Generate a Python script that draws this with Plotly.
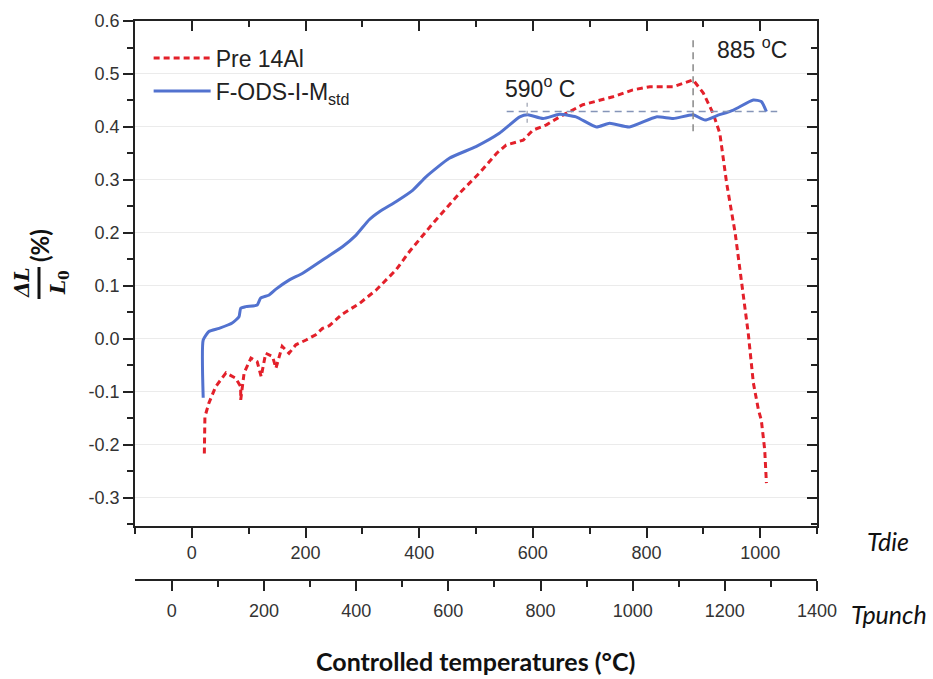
import plotly.graph_objects as go

# ---------------- data (Tdie, °C ; ΔL/L0, %) ----------------
pre14al_t = [22, 22, 23, 30, 42, 60, 77, 86, 86, 92, 104, 115, 122, 130, 142, 148, 159, 171, 183,
             201, 218, 230, 242, 265, 295, 324, 359, 383, 415, 424, 471, 506, 536, 553, 583, 600,
             624, 647, 688, 741, 776, 806, 847, 882, 900, 917, 929, 941, 956, 967, 979, 988, 997,
             1002, 1008, 1011]
pre14al_v = [-0.216, -0.159, -0.147, -0.121, -0.090, -0.064, -0.074, -0.090, -0.115, -0.064, -0.036,
             -0.043, -0.071, -0.027, -0.033, -0.055, -0.014, -0.027, -0.011, -0.002, 0.008, 0.020,
             0.025, 0.047, 0.067, 0.092, 0.130, 0.165, 0.206, 0.218, 0.275, 0.313, 0.350, 0.366,
             0.375, 0.394, 0.404, 0.419, 0.442, 0.457, 0.470, 0.476, 0.476, 0.489, 0.464, 0.426,
             0.388, 0.294, 0.200, 0.106, 0.011, -0.083, -0.134, -0.153, -0.209, -0.272]

fods_t = [20, 20, 30, 48, 71, 83, 86, 95, 115, 121, 136, 148, 171, 195, 230, 265, 289, 312, 330,
          359, 389, 412, 453, 500, 541, 577, 591, 618, 647, 676, 712, 735, 770, 817, 847, 882,
          903, 923, 953, 988, 1002, 1011]
fods_v = [-0.111, -0.002, 0.014, 0.020, 0.030, 0.042, 0.058, 0.061, 0.064, 0.077, 0.083, 0.094,
          0.111, 0.124, 0.149, 0.174, 0.196, 0.225, 0.240, 0.259, 0.281, 0.306, 0.341, 0.363,
          0.388, 0.419, 0.423, 0.416, 0.424, 0.419, 0.400, 0.407, 0.400, 0.419, 0.416, 0.423,
          0.413, 0.421, 0.432, 0.451, 0.448, 0.429]

series_names = ["Pre 14Al", "F-ODS-I-M<sub>std</sub>"]

y_tickvals = [-0.3, -0.2, -0.1, 0.0, 0.1, 0.2, 0.3, 0.4, 0.5, 0.6]
y_ticktext = ["-0.3", "-0.2", "-0.1", "0.0", "0.1", "0.2", "0.3", "0.4", "0.5", "0.6"]

# reference markers
t_590 = 590
t_885 = 882
plateau = 0.429
plateau_span = [554, 1030]

tdie_range = [-100, 1100]
tpunch_range = [-80, 1400]
y_range = [-0.353, 0.6]

# ---------------- figure ----------------
W, H = 933, 679
ML, MR, MT, MB = 135, 116, 21, 99
plot_h = H - MT - MB
ydom_low = (580 - 526) / plot_h

RED = "#e3202a"
BLUE = "#5272cf"
AX = "#222222"
TICKFONT = dict(family="Liberation Sans, Arial", size=18, color="#333333")

fig = go.Figure()
fig.add_trace(go.Scatter(x=pre14al_t, y=pre14al_v, mode="lines", name=series_names[0],
                         line=dict(color=RED, width=3, dash="6px,4px")))
fig.add_trace(go.Scatter(x=fods_t, y=fods_v, mode="lines", name=series_names[1],
                         line=dict(color=BLUE, width=3, shape="spline", smoothing=0.5)))

# reference dashed lines
fig.add_shape(type="line", xref="x", yref="y", x0=plateau_span[0], x1=plateau_span[1],
              y0=plateau, y1=plateau, line=dict(color="#8595b8", width=1.5, dash="7px,5px"))
fig.add_shape(type="line", xref="x", yref="y", x0=t_590, x1=t_590, y0=0.408, y1=0.452,
              line=dict(color="#9aa0b0", width=1.2, dash="4px,4px"))
fig.add_shape(type="line", xref="x", yref="y", x0=t_885, x1=t_885, y0=0.392, y1=0.572,
              line=dict(color="#888888", width=1.5, dash="7px,5px"))

axis_common = dict(showline=True, linecolor=AX, linewidth=1.5, zeroline=False)

fig.update_layout(
    width=W, height=H,
    margin=dict(l=ML, r=MR, t=MT, b=MB),
    paper_bgcolor="white", plot_bgcolor="white",
    showlegend=True,
    legend=dict(x=0.02, y=0.972, xanchor="left", yanchor="top",
                font=dict(family="Liberation Sans, Arial", size=23, color="#222222"),
                bgcolor="rgba(0,0,0,0)", itemwidth=57, tracegroupgap=0),
    xaxis=dict(range=tdie_range, domain=[0, 1], anchor="y", tick0=0, dtick=200,
               ticks="outside", ticklen=10, tickwidth=1.5, tickcolor=AX,
               minor=dict(dtick=100, ticks="outside", ticklen=6, tickwidth=1.5, tickcolor=AX),
               tickfont=TICKFONT, showgrid=False, **axis_common),
    xaxis2=dict(range=tpunch_range, domain=[0, 1], anchor="free", position=0, overlaying="x",
                side="bottom", tick0=0, dtick=200, ticklabelstandoff=5,
                ticks="outside", ticklen=10, tickwidth=1.5, tickcolor=AX,
                minor=dict(dtick=100, ticks="outside", ticklen=6, tickwidth=1.5, tickcolor=AX),
                tickfont=TICKFONT, showgrid=False, **axis_common),
    xaxis3=dict(range=tdie_range, domain=[0, 1], anchor="y", overlaying="x", side="top",
                tick0=0, dtick=200, ticks="inside", ticklen=10, tickwidth=1.5, tickcolor=AX,
                minor=dict(dtick=100, ticks="inside", ticklen=6, tickwidth=1.5, tickcolor=AX),
                showticklabels=False, showgrid=False, **axis_common),
    yaxis=dict(range=y_range, domain=[ydom_low, 1], anchor="x",
               tickvals=y_tickvals, ticktext=y_ticktext,
               ticks="outside", ticklen=10, tickwidth=1.5, tickcolor=AX,
               minor=dict(dtick=0.05, tick0=0, ticks="outside", ticklen=6, tickwidth=1.5, tickcolor=AX),
               tickfont=TICKFONT, showgrid=True, gridcolor="#ebebeb", gridwidth=1, **axis_common),
    yaxis2=dict(range=y_range, domain=[ydom_low, 1], anchor="x", overlaying="y", side="right",
                tick0=0, dtick=0.1, ticks="inside", ticklen=10, tickwidth=1.5, tickcolor=AX,
                minor=dict(dtick=0.05, ticks="inside", ticklen=6, tickwidth=1.5, tickcolor=AX),
                showticklabels=False, showgrid=False, **axis_common),
)

# dummy traces so overlay axes get drawn
fig.add_trace(go.Scatter(x=[None], y=[None], xaxis="x2", yaxis="y", showlegend=False, hoverinfo="skip"))
fig.add_trace(go.Scatter(x=[None], y=[None], xaxis="x3", yaxis="y2", showlegend=False, hoverinfo="skip"))


def px(xp):
    return (xp - ML) / (W - ML - MR)


def py(yp):
    return (H - MB - yp) / plot_h


def ann(x, y, text, font, xref="paper", yref="paper", angle=0):
    return dict(x=x, y=y, xref=xref, yref=yref, text=text, font=font, textangle=angle,
                showarrow=False, xanchor="center", yanchor="middle")


ARIAL = "Liberation Sans, Arial"
LATO = "Lato, Open Sans"
annots = [
    ann(985, 0.549, "885 <sup>o</sup>C", dict(family=ARIAL, size=23, color="#222222"), "x", "y"),
    ann(612, 0.475, "590<sup>o</sup> C", dict(family=ARIAL, size=23, color="#222222"), "x", "y"),
    ann(px(888), py(541), "<i>Tdie</i>", dict(family=LATO, size=25, color="#111111")),
    ann(px(889), py(614), "<i>Tpunch</i>", dict(family=LATO, size=25, color="#111111")),
    ann(px(475), py(661), "<b>Controlled temperatures (°C)</b>", dict(family=LATO, size=25, color="#111111")),
    # y-axis label: ΔL / L0 (%)
    ann(px(22), py(283), "<b><i>ΔL</i></b>", dict(family="DejaVu Serif", size=20, color="#111111"), angle=-90),
    ann(px(59), py(283), "<b><i>L</i><sub>0</sub></b>", dict(family="DejaVu Serif", size=20, color="#111111"), angle=-90),
    ann(px(40), py(246), "<b>(%)</b>", dict(family=LATO, size=24, color="#111111"), angle=-90),
]
fig.update_layout(annotations=annots)

fig.add_shape(type="line", xref="paper", yref="paper", x0=px(39), x1=px(39), y0=py(267), y1=py(299),
              line=dict(color="#111111", width=3))

fig.write_html("out.html")
